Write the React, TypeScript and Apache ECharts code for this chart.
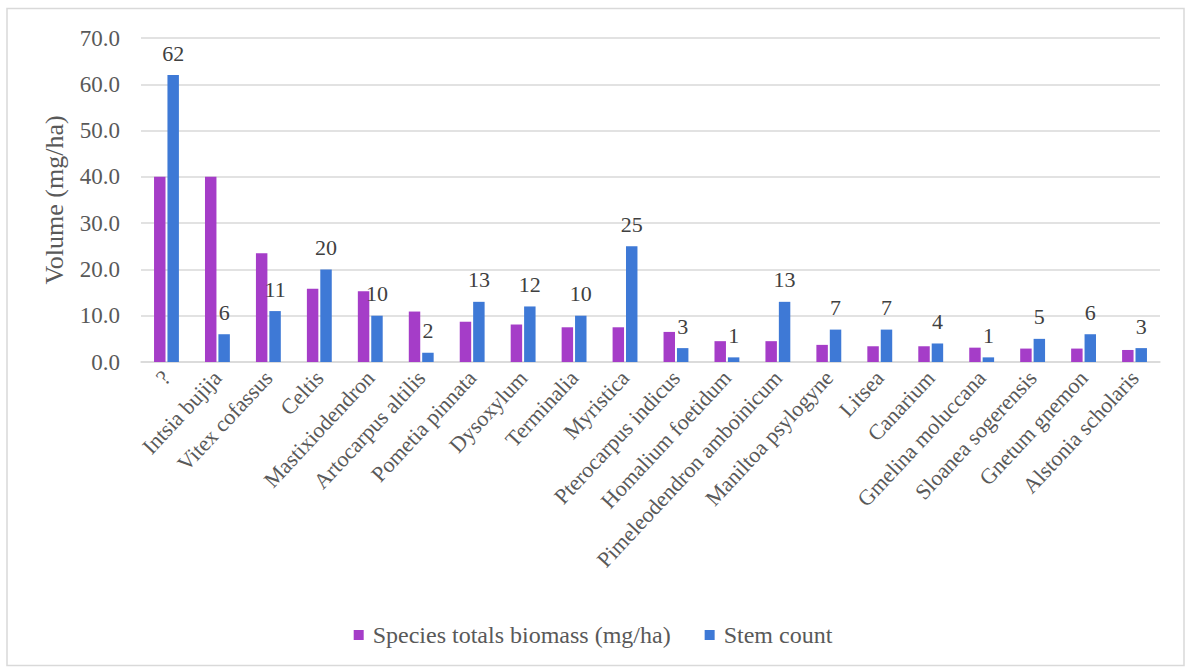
import React, { useEffect, useRef } from "react";
import * as echarts from "echarts";

const categories = [
  "?", "Intsia bujija", "Vitex cofassus", "Celtis", "Mastixiodendron",
  "Artocarpus altilis", "Pometia pinnata", "Dysoxylum", "Terminalia", "Myristica",
  "Pterocarpus indicus", "Homalium foetidum", "Pimeleodendron amboinicum", "Maniltoa psylogyne", "Litsea",
  "Canarium", "Gmelina moluccana", "Sloanea sogerensis", "Gnetum gnemon", "Alstonia scholaris",
];
const biomass = [40.0, 40.0, 23.5, 15.8, 15.3, 10.9, 8.7, 8.1, 7.5, 7.5, 6.5, 4.5, 4.5, 3.7, 3.4, 3.4, 3.1, 2.9, 2.9, 2.6];
const stemCount = [62, 6, 11, 20, 10, 2, 13, 12, 10, 25, 3, 1, 13, 7, 7, 4, 1, 5, 6, 3];
const seriesNames = ["Species totals biomass (mg/ha)", "Stem count"];
const yAxisTitle = "Volume (mg/ha)";

const FONT = '"Liberation Serif", "Times New Roman", serif';

export default function App() {
  const ref = useRef<HTMLDivElement>(null);
  useEffect(() => {
    if (!ref.current) return;
    const chart = echarts.init(ref.current, null, { renderer: "svg" });
    chart.setOption({
      animation: false,
      backgroundColor: "#ffffff",
      textStyle: { fontFamily: FONT },
      graphic: [
        {
          type: "rect",
          shape: { x: 7, y: 8.5, width: 1177, height: 657 },
          style: { fill: "none", stroke: "#d9d9d9", lineWidth: 1.5 },
          silent: true,
        },
      ],
      grid: { left: 141, right: 26, top: 38, bottom: 307, containLabel: false },
      legend: {
        top: 618,
        left: "center",
        itemWidth: 10,
        itemHeight: 10,
        itemGap: 34,
        icon: "rect",
        textStyle: { fontFamily: FONT, fontSize: 24, color: "#595959", padding: [0, 0, 0, 4] },
        data: seriesNames,
      },
      xAxis: {
        type: "category",
        data: categories,
        axisTick: { show: false },
        axisLine: { lineStyle: { color: "#d9d9d9", width: 1.5 } },
        axisLabel: {
          rotate: 47,
          interval: 0,
          margin: 12,
          fontFamily: FONT,
          fontSize: 22,
          color: "#595959",
        },
      },
      yAxis: {
        type: "value",
        min: 0,
        max: 70,
        interval: 10,
        name: yAxisTitle,
        nameLocation: "middle",
        nameGap: 74,
        nameTextStyle: { fontFamily: FONT, fontSize: 26, color: "#595959" },
        axisLine: { show: false },
        axisTick: { show: false },
        splitLine: { lineStyle: { color: "#d9d9d9", width: 1.5 } },
        axisLabel: {
          formatter: (v: number) => v.toFixed(1),
          fontFamily: FONT,
          fontSize: 23,
          color: "#595959",
          margin: 21,
        },
      },
      series: [
        {
          name: seriesNames[0],
          type: "bar",
          data: biomass,
          barWidth: "22.5%",
          barGap: "17%",
          itemStyle: { color: "#A53DC8" },
        },
        {
          name: seriesNames[1],
          type: "bar",
          data: stemCount,
          barWidth: "22.5%",
          itemStyle: { color: "#3E79D6" },
          label: {
            show: true,
            position: "top",
            distance: 11,
            fontFamily: FONT,
            fontSize: 22,
            color: "#404040",
          },
        },
      ],
    });
    return () => chart.dispose();
  }, []);
  return (
    <div
      ref={ref}
      style={{ position: "fixed", left: 0, top: 0, width: 1186, height: 669, background: "#fff" }}
    />
  );
}
